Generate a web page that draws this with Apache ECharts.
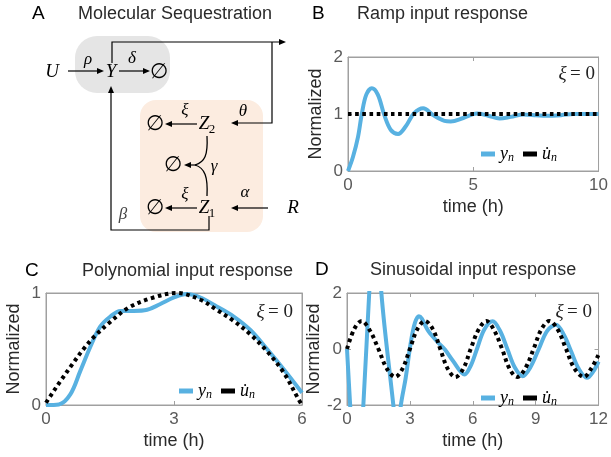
<!DOCTYPE html>
<html>
<head>
<meta charset="utf-8">
<script src="https://cdn.jsdelivr.net/npm/echarts@6/dist/echarts.min.js"></script>
<style>
  html, body { margin: 0; padding: 0; background: #fff; }
  #main { width: 611px; height: 457px; }
</style>
</head>
<body>
<div id="main"></div>
<script>
// B: ramp input response
var rampTime = [0, 0.2, 0.4, 0.55, 0.73, 0.95, 1.19, 1.45, 1.71, 2.0, 2.3, 2.63, 3.0, 3.4, 3.85, 4.1, 4.6, 5.15, 5.6, 6.05, 6.5, 7.0, 7.5, 7.9, 8.5, 9.0, 10];
var rampYn = [0, 0.25, 0.6, 1.0, 1.34, 1.45, 1.34, 0.98, 0.72, 0.65, 0.78, 1.01, 1.10, 0.98, 0.88, 0.87, 0.93, 1.01, 0.97, 0.92, 0.95, 0.99, 0.98, 0.97, 0.98, 1.0, 1.0];
var rampUnTime = [0, 10];
var rampUn = [1, 1];

// C: polynomial input response
var polyTime = [0, 0.3, 0.57, 0.8, 1.04, 1.27, 1.51, 1.74, 2.05, 2.37, 2.67, 3.0, 3.3, 3.62, 4.0, 4.4, 4.79, 5.18, 5.57, 6];
var polyYn = [0, 0.005, 0.095, 0.3, 0.52, 0.70, 0.79, 0.84, 0.84, 0.85, 0.9, 0.96, 0.99, 0.96, 0.88, 0.79, 0.67, 0.5, 0.32, 0.11];
var polyUnTime = [0, 0.13, 0.35, 0.61, 0.88, 1.13, 1.47, 1.94, 2.52, 3.07, 3.62, 4.0, 4.4, 4.79, 5.18, 5.57, 5.92, 6];
var polyUn = [0.02, 0.095, 0.22, 0.36, 0.5, 0.61, 0.73, 0.87, 0.96, 1.0, 0.94, 0.85, 0.75, 0.63, 0.48, 0.29, 0.05, 0];

// D: sinusoidal input response
var sinTime = [0, 0.15, 0.47, 0.78, 1.06, 1.35, 1.64, 2.21, 2.39, 2.57, 2.8, 3.04, 3.24, 3.43, 3.89, 4.36, 4.67, 5.06, 5.61, 5.9, 6.2, 6.55, 6.95, 7.3, 7.65, 8.0, 8.38, 8.75, 9.15, 9.55, 9.97, 10.35, 10.7, 11.05, 11.45, 11.75, 12];
var sinYn = [0, -2, -6, -2, 2, 6, 2, -2, -3.3, -2, -1.03, 0.22, 0.93, 1.17, 0.63, 0.22, -0.02, -0.43, -0.91, -0.6, 0, 0.7, 0.99, 0.65, 0, -0.65, -0.97, -0.65, 0, 0.65, 0.87, 0.5, -0.1, -0.7, -1.03, -0.8, -0.45];
var sinUnTime = [0, 0.35, 0.7, 1.1, 1.5, 1.9, 2.3, 2.65, 3.0, 3.35, 3.72, 4.1, 4.45, 4.8, 5.17, 5.55, 5.9, 6.28, 6.65, 7.0, 7.4, 7.75, 8.12, 8.5, 8.9, 9.27, 9.65, 10.05, 10.45, 10.85, 11.3, 11.65, 12];
var sinUn = [0, 0.72, 1, 0.65, 0, -0.7, -1, -0.7, 0, 0.7, 1, 0.7, 0, -0.7, -1, -0.7, 0, 0.7, 1, 0.7, 0, -0.7, -1, -0.7, 0, 0.7, 1, 0.7, 0, -0.7, -1, -0.7, -0.2];

// axes
var xMax = [10, 6, 12], xStep = [5, 3, 3];
var yMin = [0, 0, -2], yMax = [2, 1, 2], yStep = [1, 1, 2];

var chart = echarts.init(document.getElementById('main'));
var sans = 'Liberation Sans';
var serif = 'Liberation Serif';
var blue = '#58B1E1';
var axisGray = '#a0a0a0';
var ink = '#2a2a2a';

function zip(t, v) {
  return t.map(function (x, i) { return [x, v[i]]; });
}

var grids = [
  { left: 348, top: 57, width: 255, height: 114 },
  { left: 46, top: 293, width: 256, height: 112 },
  { left: 347, top: 293, width: 256, height: 112 }
];

var xAxis = [], yAxis = [];
grids.forEach(function (g, i) {
  var common = {
    gridIndex: i, type: 'value',
    axisLine: { onZero: false, lineStyle: { color: axisGray } },
    axisTick: { inside: true, length: 4, lineStyle: { color: axisGray } },
    splitLine: { show: false }
  };
  xAxis.push(Object.assign({}, common, {
    min: 0, max: xMax[i], interval: xStep[i],
    name: 'time (h)', nameLocation: 'middle', nameGap: 27,
    nameTextStyle: { color: ink, fontSize: 18, fontFamily: sans },
    axisLabel: { color: '#5a5a5a', fontSize: 17, margin: 6, fontFamily: sans }
  }));
  xAxis.push(Object.assign({}, common, {
    position: 'top', min: 0, max: xMax[i], interval: xStep[i],
    axisLabel: { show: false }
  }));
  yAxis.push(Object.assign({}, common, {
    min: yMin[i], max: yMax[i], interval: yStep[i],
    name: 'Normalized', nameLocation: 'middle', nameGap: 23,
    nameTextStyle: { color: ink, fontSize: 18, fontFamily: sans },
    axisLabel: { color: '#5a5a5a', fontSize: 17, margin: 5, fontFamily: sans }
  }));
  yAxis.push(Object.assign({}, common, {
    position: 'right', min: yMin[i], max: yMax[i], interval: yStep[i],
    axisLabel: { show: false }
  }));
});

var series = [];
var curves = [
  [rampTime, rampYn, rampUnTime, rampUn],
  [polyTime, polyYn, polyUnTime, polyUn],
  [sinTime, sinYn, sinUnTime, sinUn]
];
var tags = ['B', 'C', 'D'];
curves.forEach(function (c, i) {
  series.push({
    name: 'y' + tags[i], type: 'line', xAxisIndex: 2 * i, yAxisIndex: 2 * i,
    data: zip(c[0], c[1]), smooth: 0.35, showSymbol: false, clip: true,
    itemStyle: { color: blue },
    lineStyle: { color: blue, width: 4 }
  });
  series.push({
    name: 'u' + tags[i], type: 'line', xAxisIndex: 2 * i, yAxisIndex: 2 * i,
    data: zip(c[2], c[3]), smooth: 0.35, showSymbol: false, clip: true,
    itemStyle: { color: '#000' },
    lineStyle: { color: '#000', width: 4, type: [3.6, 3.6], cap: 'butt' }
  });
});

var legendPos = [[476, 140], [174, 377], [476, 384]];
var legend = legendPos.map(function (p, i) {
  return {
    data: ['y' + tags[i], 'u' + tags[i]],
    left: p[0], top: p[1], icon: 'rect', itemWidth: 14, itemHeight: 5, itemGap: 9,
    selectedMode: false,
    formatter: function (name) {
      return name.charAt(0) === 'y' ? '{v|y}{s|n}' : '{v|u\u0307}{s|n}';
    },
    textStyle: {
      color: '#000',
      rich: {
        v: { fontFamily: serif, fontStyle: 'italic', fontSize: 18 },
        s: { fontFamily: serif, fontStyle: 'italic', fontSize: 12, padding: [8, 0, 0, 0] }
      }
    }
  };
});

// diagram helpers
function tx(s, x, y, size, italic, align, fam, color) {
  return {
    type: 'text', x: x, y: y,
    style: {
      text: s, font: (italic ? 'italic ' : '') + size + 'px "' + (fam || serif) + '"',
      fill: color || '#000', textAlign: align || 'center', textVerticalAlign: 'middle',
      align: align || 'center', verticalAlign: 'middle'
    }
  };
}
function sub(x, y, z, n) {
  return [tx(z, x, y, 19, true), tx(n, x + 8, y + 6, 13, false)];
}
function arrow(pts) {
  var n = pts.length, p = pts[n - 1], q = pts[n - 2];
  var dx = p[0] - q[0], dy = p[1] - q[1], L = Math.sqrt(dx * dx + dy * dy);
  dx /= L; dy /= L;
  var hl = 7, hw = 3;
  var base = [p[0] - dx * hl, p[1] - dy * hl];
  return [
    { type: 'polyline', shape: { points: pts.slice(0, n - 1).concat([base]) }, style: { stroke: '#000', lineWidth: 1.2, fill: null } },
    { type: 'polygon', shape: { points: [p, [base[0] - dy * hw, base[1] + dx * hw], [base[0] + dy * hw, base[1] - dx * hw]] }, style: { fill: '#000' } }
  ];
}
function xi0(right, y) {
  return {
    type: 'text', x: right, y: y,
    style: {
      text: '{a|\u03be} {b|= 0}', textAlign: 'right', textVerticalAlign: 'middle', align: 'right', verticalAlign: 'middle',
      rich: {
        a: { fontFamily: serif, fontStyle: 'italic', fontSize: 19, fill: '#222' },
        b: { fontFamily: serif, fontSize: 19, fill: '#222' }
      }
    }
  };
}

var empty = '\u2205';
var graphic = [
  { type: 'rect', shape: { x: 75, y: 36, width: 95, height: 57, r: 22 }, style: { fill: '#e5e5e5' } },
  { type: 'rect', shape: { x: 140, y: 100, width: 123, height: 132, r: 16 }, style: { fill: '#fcece0' } },
  // panel headings
  tx('A', 32, 14, 19, false, 'left', sans), tx('Molecular Sequestration', 78, 14, 18, false, 'left', sans, ink),
  tx('B', 312, 14, 19, false, 'left', sans), tx('Ramp input response', 357, 14, 18, false, 'left', sans, ink),
  tx('C', 25, 271, 19, false, 'left', sans), tx('Polynomial input response', 82, 271, 18, false, 'left', sans, ink),
  tx('D', 315, 270, 19, false, 'left', sans), tx('Sinusoidal input response', 370, 270, 18, false, 'left', sans, ink),
  // species and rates
  tx('U', 52, 72, 19, true), tx('\u03c1', 88, 60, 17, true), tx('Y', 111, 72, 19, true),
  tx('\u03b4', 132, 59, 17, true), tx(empty, 159, 72, 21, false),
  tx('\u03b8', 243, 112, 17, true), tx('\u03be', 185, 111, 17, true), tx(empty, 155, 124, 21, false),
  tx(empty, 173, 165, 21, false), tx('\u03b3', 214, 167, 17, true),
  tx('\u03be', 185, 195, 17, true), tx(empty, 155, 208, 21, false),
  tx('\u03b1', 245, 193, 17, true), tx('R', 293, 208, 19, true), tx('\u03b2', 123, 215, 17, true, 'center', serif, '#444'),
  xi0(595, 74), xi0(293, 312), xi0(592, 312),
  { type: 'bezierCurve', shape: { x1: 207, y1: 136, cpx1: 208, cpy1: 155, cpx2: 205, cpy2: 162, x2: 195, y2: 165 }, style: { stroke: '#000', lineWidth: 1.3, fill: null } },
  { type: 'bezierCurve', shape: { x1: 207, y1: 196, cpx1: 208, cpy1: 177, cpx2: 205, cpy2: 168, x2: 195, y2: 165 }, style: { stroke: '#000', lineWidth: 1.3, fill: null } }
].concat(
  sub(204, 124, 'Z', '2'), sub(204, 208, 'Z', '1'),
  arrow([[68, 71], [104, 71]]),
  arrow([[119, 71], [150, 71]]),
  arrow([[112, 63], [112, 42], [286, 42]]),
  arrow([[272, 42], [272, 123], [231, 123]]),
  arrow([[197, 124], [165, 124]]),
  arrow([[196, 165], [184, 165]]),
  arrow([[197, 208], [165, 208]]),
  arrow([[268, 208], [231, 208]]),
  arrow([[209, 216], [209, 230], [111, 230], [111, 86]])
);

var option = {
  animation: false,
  grid: grids.map(function (g) {
    return Object.assign({ show: true, borderColor: axisGray, borderWidth: 1, backgroundColor: 'transparent' }, g);
  }),
  xAxis: xAxis,
  yAxis: yAxis,
  legend: legend,
  series: series,
  graphic: graphic
};
chart.setOption(option);
</script>
</body>
</html>
